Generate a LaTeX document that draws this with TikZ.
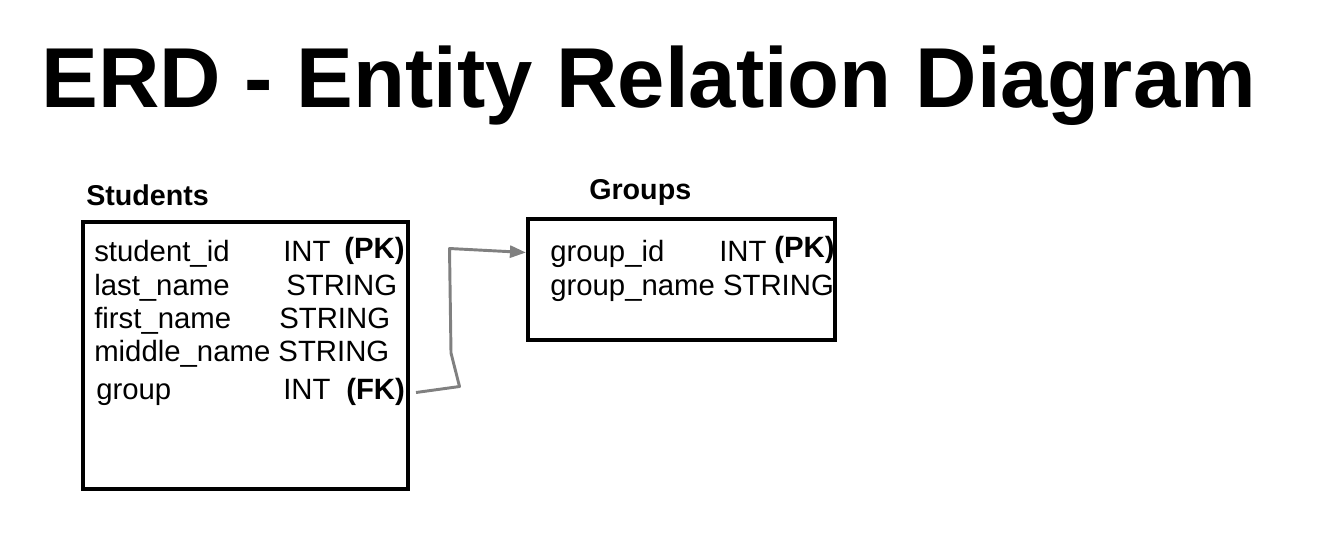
\documentclass[tikz,border=0pt]{standalone}
\usepackage{fontspec}
\setmainfont{Liberation Sans}
\usetikzlibrary{arrows.meta}
\begin{document}
\begin{tikzpicture}[x=0.75pt,y=-0.75pt,
  txt/.style={anchor=base west,inner sep=0pt,font=\fontsize{22pt}{24pt}\selectfont},
  bold/.style={txt,font=\fontsize{22pt}{24pt}\selectfont\bfseries},
  lbl/.style={anchor=base west,inner sep=0pt,font=\fontsize{21.5pt}{24pt}\selectfont\bfseries},
  tbl/.style={draw=black,line width=3.1pt,inner sep=0pt},
  link/.style={draw={rgb,255:red,128;green,128;blue,128},line width=2.2pt,line join=round}]
\useasboundingbox (0,0) rectangle (1344,544);
% title
\node[anchor=base west,inner sep=0pt,font=\fontsize{63.8pt}{70pt}\selectfont\bfseries] (title) at (41,107) {ERD - Entity Relation Diagram};
% labels
\node[lbl] (stulbl) at (86,205) {Students};
\node[lbl] (grplbl) at (589,199) {Groups};
% boxes
\node[tbl,minimum width=325*0.75pt,minimum height=267*0.75pt] (stubox) at (245.5,355.5) {};
\node[tbl,minimum width=307*0.75pt,minimum height=121*0.75pt] (grpbox) at (681.5,279.5) {};
% Students rows
\node[txt] (s1) at (94,261) {student\_id};
\node[txt] (s1t) at (283,261) {INT};
\node[bold] (s1k) at (344,258) {(PK)};
\node[txt] (s2) at (94,295) {last\_name};
\node[txt] (s2t) at (286,295) {STRING};
\node[txt] (s3) at (94,328) {first\_name};
\node[txt] (s3t) at (279,328) {STRING};
\node[txt] (s4) at (94,361) {middle\_name STRING};
\node[txt] (s5) at (96,399) {group};
\node[txt] (s5t) at (283,399) {INT};
\node[bold] (s5k) at (346,399) {(FK)};
% Groups rows
\node[txt] (g1) at (550,261) {group\_id};
\node[txt] (g1t) at (719,261) {INT};
\node[bold] (g1k) at (774,257) {(PK)};
\node[txt] (g2) at (550,295) {group\_name STRING};
% connector
\coordinate (c0) at (416,392.5);
\coordinate (c1) at (459.5,386.5);
\coordinate (c2) at (451,353);
\coordinate (c3) at (449.5,248.5);
\draw[link,-{Triangle[length=12pt,width=9pt]}] (c0) -- (c1) -- (c2) -- (c3) -- (grpbox.west |- 0,252.5);
\end{tikzpicture}
\end{document}
